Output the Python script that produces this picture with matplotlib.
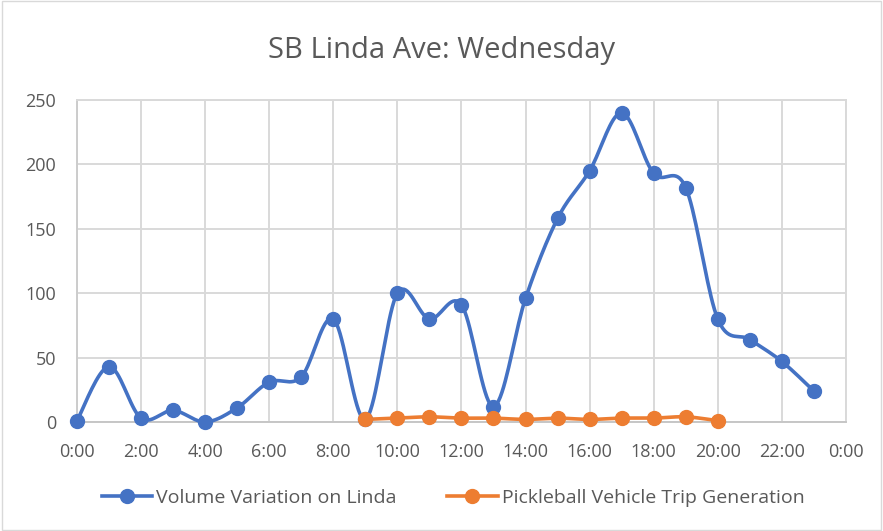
import numpy as np
import matplotlib.pyplot as plt
from matplotlib.lines import Line2D

plt.rcParams['font.family'] = ['Open Sans', 'DejaVu Sans']

hours = list(range(24))
volume = [1, 43, 3, 9, 0, 11, 31, 35, 80, 2, 100, 80, 91, 12, 96, 158, 195, 240, 193, 182, 80, 64, 47, 24]
pickle_hours = list(range(9, 21))
pickleball = [2, 3, 4, 3, 3, 2, 3, 2, 3, 3, 4, 1]
tick_labels = ['0:00', '2:00', '4:00', '6:00', '8:00', '10:00', '12:00',
               '14:00', '16:00', '18:00', '20:00', '22:00', '0:00']

blue = '#4472c4'
orange = '#ed7d31'
text_gray = '#595959'


def smooth(x, y, n=20):
    # catmull-rom style curve through the points, like Excel's smoothed line
    x = np.asarray(x, float)
    y = np.asarray(y, float)
    px = np.concatenate([[x[0]], x, [x[-1]]])
    py = np.concatenate([[y[0]], y, [y[-1]]])
    xs, ys = [], []
    t = np.linspace(0, 1, n)
    for i in range(1, len(px) - 2):
        p0, p1, p2, p3 = (np.array([px[j], py[j]]) for j in range(i - 1, i + 3))
        c1 = p1 + (p2 - p0) / 6
        c2 = p2 - (p3 - p1) / 6
        b = ((1 - t) ** 3)[:, None] * p1 + (3 * (1 - t) ** 2 * t)[:, None] * c1 \
            + (3 * (1 - t) * t ** 2)[:, None] * c2 + (t ** 3)[:, None] * p2
        xs.extend(b[:, 0])
        ys.extend(b[:, 1])
    return xs, ys


fig = plt.figure(figsize=(8.83, 5.31), dpi=100)
ax = fig.add_axes([0.0872, 0.2053, 0.8708, 0.6064])

sx, sy = smooth(hours, volume)
ax.plot(sx, sy, color=blue, lw=2.6, solid_capstyle='round', zorder=3, clip_on=False)
ax.plot(hours, volume, 'o', color=blue, ms=10, zorder=4, clip_on=False)
sx, sy = smooth(pickle_hours, pickleball)
ax.plot(sx, sy, color=orange, lw=2.6, solid_capstyle='round', zorder=3, clip_on=False)
ax.plot(pickle_hours, pickleball, 'o', color=orange, ms=10, zorder=4, clip_on=False)

ax.set_xlim(0, 24)
ax.set_ylim(0, 250)
ax.set_xticks(range(0, 25, 2))
ax.set_xticklabels(tick_labels)
ax.set_yticks(range(0, 251, 50))
ax.grid(True, color='#d9d9d9', lw=1.4)
ax.set_axisbelow(True)
for s in ax.spines.values():
    s.set_color('#d9d9d9')
    s.set_linewidth(1.4)
ax.spines['bottom'].set_color('#c6c6c6')
ax.spines['left'].set_color('#cccccc')
ax.tick_params(length=0, labelsize=13, colors=text_gray)
ax.tick_params(axis='x', pad=15)
ax.tick_params(axis='y', pad=15)

fig.text(0.5, 0.905, 'SB Linda Ave: Wednesday', ha='center', va='center',
         fontsize=21, color=text_gray)

handles = [Line2D([], [], color=blue, lw=2.6, marker='o', ms=10),
           Line2D([], [], color=orange, lw=2.6, marker='o', ms=10)]
fig.legend(handles, ['Volume Variation on Linda', 'Pickleball Vehicle Trip Generation'],
           loc='center', bbox_to_anchor=(0.513, 0.062), ncol=2, frameon=False,
           fontsize=14, labelcolor=text_gray, columnspacing=2.6, handlelength=2.6,
           handletextpad=0.2)

fig.patches.append(plt.Rectangle((0.002, 0.002), 0.996, 0.996, transform=fig.transFigure,
                                 fill=False, edgecolor='#d9d9d9', lw=1))

fig.savefig('out.png', dpi=100)
